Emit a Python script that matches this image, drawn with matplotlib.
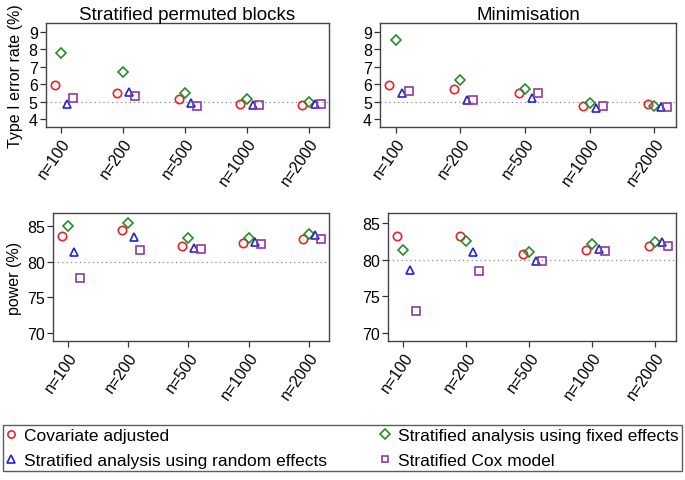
import numpy as np
import matplotlib
matplotlib.use("Agg")
import matplotlib.pyplot as plt

plt.rcParams['font.family'] = ['Liberation Sans', 'DejaVu Sans']

sizes = ["n=100", "n=200", "n=500", "n=1000", "n=2000"]
methods = ["Covariate adjusted", "Stratified analysis using fixed effects",
           "Stratified analysis using random effects", "Stratified Cox model"]

# type I error rate (%)
t1_blocks = {
    "cov":   [5.97, 5.49, 5.12, 4.87, 4.78],
    "fixed": [7.79, 6.70, 5.47, 5.16, 4.95],
    "rand":  [4.86, 5.53, 4.93, 4.80, 4.87],
    "cox":   [5.22, 5.31, 4.76, 4.81, 4.83],
}
t1_min = {
    "cov":   [5.96, 5.69, 5.46, 4.73, 4.88],
    "fixed": [8.55, 6.23, 5.69, 4.90, 4.75],
    "rand":  [5.46, 5.08, 5.22, 4.60, 4.70],
    "cox":   [5.60, 5.07, 5.50, 4.73, 4.69],
}
# power (%)
pw_blocks = {
    "cov":   [83.64, 84.53, 82.20, 82.71, 83.22],
    "fixed": [85.00, 85.47, 83.41, 83.32, 83.93],
    "rand":  [81.40, 83.50, 81.92, 82.85, 83.79],
    "cox":   [77.76, 81.73, 81.78, 82.57, 83.22],
}
pw_min = {
    "cov":   [83.30, 83.30, 80.77, 81.30, 81.90],
    "fixed": [81.30, 82.50, 81.00, 82.10, 82.40],
    "rand":  [78.64, 81.04, 79.86, 81.50, 82.40],
    "cox":   [73.00, 78.50, 79.82, 81.20, 81.90],
}

style = {
    "cov":   dict(marker="o", color="#e8232b", offset=-0.1, label=methods[0]),
    "fixed": dict(marker="D", color="#2a8a2a", offset=0.0, label=methods[1]),
    "rand":  dict(marker="^", color="#2323d6", offset=0.1, label=methods[2]),
    "cox":   dict(marker="s", color="#8e3a9f", offset=0.2, label=methods[3]),
}
msize = {"o": 6.0, "D": 5.4, "^": 6.0, "s": 5.6}

fig = plt.figure(figsize=(6.85, 4.81), dpi=100)
W, H = 685, 481


def add_ax(l, r, t, b):
    return fig.add_axes([l / W, 1 - b / H, (r - l) / W, (b - t) / H])


panels = [
    (add_ax(46, 329, 24.3, 128), t1_blocks, 5, (3.54, 9.48), [4, 5, 6, 7, 8, 9], "Type I error rate (%)", "Stratified permuted blocks"),
    (add_ax(380.3, 675.7, 24.3, 128), t1_min, 5, (3.54, 9.48), [4, 5, 6, 7, 8, 9], None, "Minimisation"),
    (add_ax(53.3, 329, 214, 342.3), pw_blocks, 80, (68.8, 86.9), [70, 75, 80, 85], "power (%)", None),
    (add_ax(388.3, 676, 214, 342.3), pw_min, 80, (68.8, 86.4), [70, 75, 80, 85], None, None),
]

x = np.arange(len(sizes))
for ax, data, ref, ylim, yticks, ylabel, title in panels:
    ax.axhline(ref, color="#888888", linestyle=(0, (1, 2.5)), linewidth=0.9, zorder=1)
    for key in ["cov", "fixed", "rand", "cox"]:
        s = style[key]
        ax.plot(x + s["offset"], data[key], linestyle="none", marker=s["marker"],
                markersize=msize[s["marker"]], markerfacecolor="none",
                markeredgecolor=s["color"], markeredgewidth=1.2, zorder=3)
    ax.set_xlim(-0.24, 4.33)
    ax.set_ylim(*ylim)
    ax.set_yticks(yticks)
    ax.set_xticks(x)
    ax.set_xticklabels(sizes, rotation=55, ha="right", va="top", rotation_mode="anchor")
    ax.tick_params(labelsize=11.5, length=4, width=0.9, color="#333333", pad=2)
    for sp in ax.spines.values():
        sp.set_color("#444444")
        sp.set_linewidth(1.0)
    if ylabel:
        ax.set_ylabel(ylabel, fontsize=11.5, labelpad=4)
    if title:
        ax.set_title(title, fontsize=13.5, pad=3)

handles = []
for key in ["cov", "rand", "fixed", "cox"]:
    s = style[key]
    h, = plt.plot([], [], linestyle="none", marker=s["marker"], markersize=msize[s["marker"]] - 0.8,
                  markerfacecolor="none", markeredgecolor=s["color"], markeredgewidth=1.2, label=s["label"])
    handles.append(h)

leg = fig.legend(handles=handles, loc="center left", bbox_to_anchor=(3 / W, 1 - 478 / H, 679 / W, 58 / H),
                 mode="expand", ncol=2, fontsize=12.5, frameon=True, fancybox=False,
                 handlelength=0.5, handletextpad=0.5, borderpad=0.2, labelspacing=0.55,
                 columnspacing=1.5, borderaxespad=0)
leg.get_frame().set_edgecolor("#333333")
leg.get_frame().set_linewidth(1.0)

fig.savefig("out.png", dpi=100)
